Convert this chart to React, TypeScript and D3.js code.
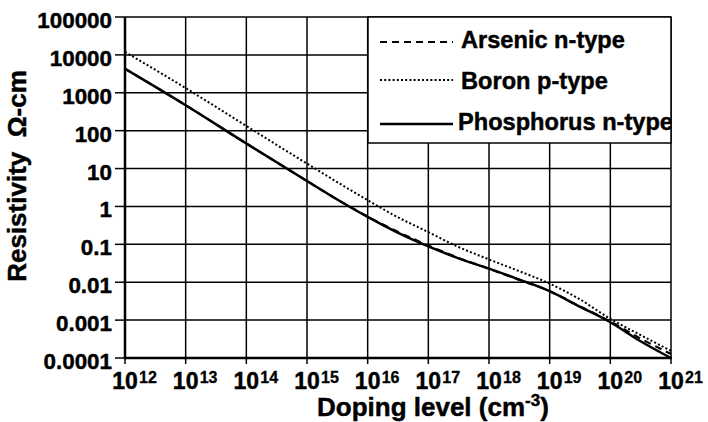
import React from "react";
import * as d3 from "d3";

const dopingLevels = [1e12, 1e13, 1e14, 1e15, 3e15, 1e16, 3e16, 1e17, 3e17, 1e18, 3e18, 1e19, 3e19, 1e20, 3e20, 1e21];
const arsenic = [4300, 470, 46, 4.7, 1.6, 0.54, 0.222, 0.093, 0.045, 0.0226, 0.0119, 0.0058, 0.0024, 0.00092, 0.00034, 0.000128];
const boron = [12000, 1330, 133, 13.5, 4.6, 1.46, 0.54, 0.21, 0.088, 0.04, 0.0202, 0.0092, 0.0037, 0.00108, 0.00042, 0.000155];
const phosphorus = [4300, 470, 46, 4.7, 1.6, 0.53, 0.21, 0.088, 0.044, 0.0228, 0.0121, 0.0058, 0.00235, 0.00088, 0.00029, 0.0001];

const seriesNames = ["Arsenic n-type", "Boron p-type", "Phosphorus n-type"];
const yTickValues = [100000, 10000, 1000, 100, 10, 1, 0.1, 0.01, 0.001, 0.0001];
const yTickLabels = ["100000", "10000", "1000", "100", "10", "1", "0.1", "0.01", "0.001", "0.0001"];
const xTickExponents = [12, 13, 14, 15, 16, 17, 18, 19, 20, 21];
const xTitle = "Doping level (cm";
const xTitleSup = "-3";
const yTitle = "Resistivity  \u03A9-cm";

const W = 708;
const H = 422;
const L = 125, R = 671, T = 17, B = 358;
const FONT = "'Liberation Sans', Arial, Helvetica, sans-serif";

export default function App() {
  const x = d3.scaleLog().domain([1e12, 1e21]).range([L, R]);
  const y = d3.scaleLog().domain([1e-4, 1e5]).range([B, T]);

  const line = d3
    .line<[number, number]>()
    .x((d) => x(d[0]))
    .y((d) => y(d[1]))
    .curve(d3.curveMonotoneX);

  const mk = (vals: number[]) => line(dopingLevels.map((n, i) => [n, vals[i]] as [number, number])) || "";

  const series = [
    { name: seriesNames[0], d: mk(arsenic), dash: "7,5", w: 2.2 },
    { name: seriesNames[1], d: mk(boron), dash: "2,2.2", w: 2 },
    { name: seriesNames[2], d: mk(phosphorus), dash: "none", w: 2.5 },
  ];

  const legendX = 368, legendY = 17, legendW = R - 368, legendH = 126;
  const legendRows = [42, 80, 124];
  const legendTextY = [48, 89, 130];
  const ts = { stroke: "#000", strokeWidth: 0.45 };

  return (
    <svg
      width={W}
      height={H}
      style={{ position: "absolute", left: 0, top: 0, background: "#fff" }}
      fontFamily={FONT}
      fontWeight="bold"
    >
      <defs>
        <clipPath id="legclip">
          <rect x={legendX} y={legendY} width={legendW} height={legendH} />
        </clipPath>
        <clipPath id="plotclip">
          <rect x={L} y={T - 2} width={R - L + 2} height={B - T + 4} />
        </clipPath>
      </defs>
      <rect x={0} y={0} width={W} height={H} fill="#fff" />

      {yTickValues.map((v, i) => (
        <line key={"hg" + i} x1={L} x2={R} y1={y(v)} y2={y(v)} stroke="#000" strokeWidth={1.5} />
      ))}
      {xTickExponents.map((e, i) => (
        <line key={"vg" + i} x1={x(Math.pow(10, e))} x2={x(Math.pow(10, e))} y1={T} y2={B} stroke="#000" strokeWidth={1.5} />
      ))}

      {yTickValues.map((v, i) => (
        <g key={"yt" + i}>
          <line x1={L - 10} x2={L} y1={y(v)} y2={y(v)} stroke="#000" strokeWidth={1.5} />
          <text x={112} y={y(v) + 11} textAnchor="end" fontSize={22.4} fill="#000" {...ts}>
            {yTickLabels[i]}
          </text>
        </g>
      ))}

      {xTickExponents.map((e, i) => {
        const px = x(Math.pow(10, e));
        return (
          <g key={"xt" + i}>
            <line x1={px} x2={px} y1={B} y2={B + 6} stroke="#000" strokeWidth={1.5} />
            <text x={px + 12.8} y={389} textAnchor="end" fontSize={23} fill="#000" {...ts}>
              10
            </text>
            <text x={px + 14} y={383} textAnchor="start" fontSize={16} fill="#000" {...ts} strokeWidth={0.3}>
              {String(e)}
            </text>
          </g>
        );
      })}

      <line x1={L} x2={L} y1={T} y2={B + 1} stroke="#000" strokeWidth={2.5} />
      <line x1={L - 1} x2={R + 1} y1={B} y2={B} stroke="#000" strokeWidth={2.5} />

      <g clipPath="url(#plotclip)">
        {series.map((s, i) => (
          <path
            key={"s" + i}
            d={s.d}
            fill="none"
            stroke="#000"
            strokeWidth={s.w}
            strokeDasharray={s.dash}
          />
        ))}
      </g>

      <rect x={legendX} y={legendY} width={legendW} height={legendH} fill="#fff" />
      <g clipPath="url(#legclip)">
        {series.map((s, i) => (
          <g key={"lg" + i}>
            <line
              x1={380}
              x2={453}
              y1={legendRows[i]}
              y2={legendRows[i]}
              stroke="#000"
              strokeWidth={s.w}
              strokeDasharray={s.dash}
            />
            <text x={i === 2 ? 458 : 461} y={legendTextY[i]} fontSize={23.6} fill="#000" {...ts}>
              {s.name}
            </text>
          </g>
        ))}
      </g>
      <rect x={legendX} y={legendY} width={legendW} height={legendH} fill="none" stroke="#000" strokeWidth={1.5} />

      <text x={317} y={416} fontSize={26} fill="#000" {...ts}>
        {xTitle}
        <tspan fontSize={17} dy={-10}>{xTitleSup}</tspan>
        <tspan dy={10}>)</tspan>
      </text>
      <text
        transform={`translate(26,176) rotate(-90)`}
        textAnchor="middle"
        fontSize={26}
        fill="#000"
        {...ts}
        style={{ whiteSpace: "pre" }}
      >
        {yTitle}
      </text>
    </svg>
  );
}
